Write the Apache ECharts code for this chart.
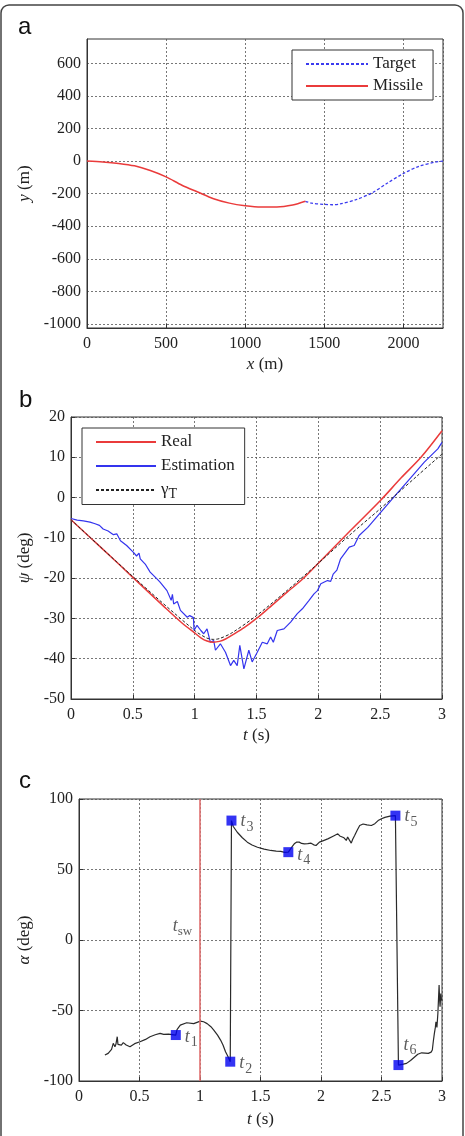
<!DOCTYPE html>
<html>
<head>
<meta charset="utf-8">
<script src="https://cdn.jsdelivr.net/npm/echarts@6/dist/echarts.min.js"></script>
<style>
html,body{margin:0;padding:0;background:#fff;}
#main{width:465px;height:1136px;}
</style>
</head>
<body>
<div id="main"></div>
<script>
// ---------- Panel a: trajectories ----------
const missileX = [0, 100, 200, 300, 400, 500, 600, 700, 800, 900, 1000, 1100, 1200, 1300, 1380];
const missileY = [0, -5, -14, -29, -58, -97, -148, -190, -231, -258, -274, -282, -282, -270, -247];
const targetX = [1380, 1420, 1500, 1550, 1600, 1700, 1800, 1900, 2000, 2100, 2200, 2250];
const targetY = [-247, -258, -266, -268, -263, -237, -196, -134, -76, -31, -6, 0];

// ---------- Panel b: heading angles ----------
const realT = [0, 0.25, 0.5, 0.75, 0.9, 1.0, 1.05, 1.1, 1.15, 1.2, 1.25, 1.3, 1.4, 1.5, 1.6, 1.75, 1.86, 2.0, 2.25, 2.5, 2.67, 2.83, 3.0];
const realV = [-5.5, -12.6, -19.8, -27.0, -31.2, -33.6, -34.8, -35.6, -35.9, -35.7, -35.1, -34.2, -32.3, -30.0, -27.4, -23.4, -20.6, -16.3, -8.5, -0.8, 4.9, 10.0, 16.6];
const gammaT = [0, 0.5, 1.0, 1.1, 1.15, 1.2, 1.3, 1.5, 1.75, 2.0, 2.25, 2.5, 2.61, 2.8, 3.0];
const gammaV = [-5.5, -19.6, -33.0, -34.9, -35.2, -35.0, -33.6, -29.3, -23.0, -16.3, -9.4, -2.8, 0.2, 5.4, 10.8];
const estT = [0, 0.05, 0.1, 0.154, 0.195, 0.23, 0.26, 0.3, 0.343, 0.37, 0.40, 0.45, 0.505, 0.53, 0.55, 0.56, 0.6, 0.64, 0.695, 0.72, 0.776, 0.81, 0.82, 0.83, 0.86, 0.885, 0.94, 0.96, 0.99, 0.995, 1.019, 1.05, 1.073, 1.10, 1.127, 1.154, 1.168, 1.208, 1.249, 1.29, 1.316, 1.344, 1.365, 1.398, 1.438, 1.465, 1.506, 1.547, 1.587, 1.614, 1.636, 1.668, 1.722, 1.776, 1.83, 1.871, 1.925, 1.965, 1.993, 2.02, 2.074, 2.1, 2.12, 2.15, 2.18, 2.25, 2.29, 2.33, 2.40, 2.506, 2.614, 2.75, 2.857, 2.966, 3.0];
const estV = [-5.2, -5.6, -5.8, -6.1, -6.5, -6.9, -7.8, -8.3, -9.2, -9.0, -10.7, -11.9, -13.6, -14.5, -13.8, -15.2, -16.5, -18.5, -20.2, -21.0, -23.1, -25.5, -24.0, -26.4, -25.8, -28.0, -29.7, -29.3, -29.8, -33.0, -31.7, -33.0, -33.8, -32.6, -35.9, -35.5, -37.9, -36.3, -38.4, -41.7, -40.4, -41.7, -36.7, -42.5, -37.9, -40.8, -38.4, -35.9, -36.3, -34.6, -35.9, -33.0, -32.6, -30.9, -28.8, -27.6, -25.5, -23.9, -23.1, -21.4, -20.6, -20.8, -19.0, -18.0, -15.2, -12.3, -11.9, -9.4, -7.4, -3.6, 0.25, 5.0, 8.8, 12.1, 13.7];

// ---------- Panel c: alpha ----------
const alphaT = [0.214, 0.225, 0.241, 0.255, 0.269, 0.283, 0.297, 0.305, 0.316, 0.322, 0.332, 0.35, 0.366, 0.39, 0.421, 0.46, 0.504, 0.55, 0.587, 0.63, 0.67, 0.7, 0.74, 0.80, 0.81, 0.837, 0.89, 0.948, 1.003, 1.03, 1.059, 1.09, 1.114, 1.145, 1.17, 1.19, 1.211, 1.23, 1.25, 1.26, 1.275, 1.308, 1.35, 1.391, 1.43, 1.475, 1.53, 1.585, 1.63, 1.668, 1.7, 1.73, 1.76, 1.779, 1.8, 1.82, 1.84, 1.862, 1.89, 1.918, 1.94, 1.959, 1.987, 2.02, 2.056, 2.1, 2.139, 2.155, 2.167, 2.19, 2.209, 2.22, 2.235, 2.25, 2.262, 2.278, 2.3, 2.32, 2.348, 2.38, 2.416, 2.445, 2.472, 2.5, 2.528, 2.57, 2.615, 2.64, 2.68, 2.707, 2.74, 2.776, 2.8, 2.832, 2.86, 2.887, 2.91, 2.92, 2.928, 2.937, 2.945, 2.95, 2.958, 2.966, 2.972, 2.976, 2.98, 2.984, 2.99, 2.996];
const alphaV = [-81.6, -82.5, -80.4, -79, -77.6, -73.3, -75.7, -74, -68.6, -74, -73.3, -74.5, -72.8, -74.5, -75.7, -73.5, -72.2, -70.5, -68.6, -67.2, -66.2, -66.9, -66.7, -67.4, -63.5, -60.4, -58.7, -59.3, -57.5, -58, -59.3, -61.5, -63.9, -67.5, -71, -74.5, -79.3, -82.5, -86.3, 84.7, 80.5, 76.4, 72.5, 69.4, 67.4, 65.8, 64.5, 63.5, 63, 62.8, 62.2, 62.3, 66, 68.2, 69.5, 69.4, 68.5, 68.2, 68.4, 68.7, 67.5, 67.0, 69.4, 70.5, 71.7, 73.6, 75.3, 73.8, 74.1, 72.5, 70.6, 73, 70.8, 68.7, 71.5, 74.1, 78, 81.2, 82.3, 81.6, 81.2, 82.5, 84.7, 86, 87.0, 87.8, 88.2, -88.7, -88, -87.5, -85.5, -82.8, -81, -80, -80.2, -80.4, -79.5, -78, -72, -66.2, -62, -58, -62, -52, -40, -32, -42, -47.4, -38, -43];
const markerNames = ['1', '2', '3', '4', '5', '6'];
const markerT = [0.80, 1.25, 1.26, 1.73, 2.615, 2.64];
const markerV = [-67.4, -86.3, 84.7, 62.3, 88.2, -88.7];
const switchTime = 1;
const switchLabelPos = [0.855, 10];

const zip = (a, b) => a.map((v, i) => [v, b[i]]);

const SERIF = 'Liberation Serif';
const TXT = '#222';
const gridLine = { show: true, lineStyle: { color: '#555', type: [2, 2], width: 0.8 } };
const numFmt = v => String(Math.round(v * 1000) / 1000);

function xAxisCfg(gi, min, max, interval, name, gap) {
  return {
    type: 'value', gridIndex: gi, min, max, interval,
    name, nameLocation: 'middle', nameGap: gap,
    nameTextStyle: { fontFamily: SERIF, fontSize: 17, color: TXT, rich: { i: { fontFamily: SERIF, fontSize: 17, fontStyle: 'italic', color: TXT } } },
    axisLine: { show: true, onZero: false, lineStyle: { color: '#333', width: 1 } },
    axisTick: { show: true, inside: true, length: 4, lineStyle: { color: '#333' } },
    axisLabel: { fontFamily: SERIF, fontSize: 16, color: TXT, margin: 8, formatter: numFmt, showMaxLabel: max % interval === 0 },
    splitLine: gridLine
  };
}
function yAxisCfg(gi, min, max, interval, name, gap) {
  return {
    type: 'value', gridIndex: gi, min, max, interval,
    name, nameLocation: 'middle', nameGap: gap,
    nameTextStyle: { fontFamily: SERIF, fontSize: 17, color: TXT, rich: { i: { fontFamily: SERIF, fontSize: 17, fontStyle: 'italic', color: TXT } } },
    axisLine: { show: true, onZero: false, lineStyle: { color: '#333', width: 1 } },
    axisTick: { show: true, inside: true, length: 4, lineStyle: { color: '#333' } },
    axisLabel: { fontFamily: SERIF, fontSize: 16, color: TXT, margin: 6, formatter: numFmt },
    splitLine: gridLine
  };
}

// Panel a y axis: fine step so the frame can extend beyond -1000..600; only every 8th line shown
const yA = yAxisCfg(0, -1025, 750, 25, '{i|y} (m)', 52);
yA.axisLabel.formatter = v => (Math.round(v) % 200 === 0 ? String(Math.round(v)) : '');
yA.axisTick = { show: false };
const clear = 'rgba(0,0,0,0)';
yA.splitLine = { show: true, lineStyle: { color: [clear, '#555', clear, clear, clear, clear, clear, clear], type: [2, 2], width: 0.8 } };

const markerLabelOffsets = [[0, 2], [0, 2], [0, 1], [0, 3], [0, 1], [-4, -20]];

const legendBase = {
  orient: 'vertical', backgroundColor: '#fff', borderColor: '#333', borderWidth: 1, borderRadius: 0,
  itemStyle: { opacity: 0 }
};

const option = {
  animation: false,
  backgroundColor: '#fff',
  grid: [
    { left: 87, top: 39, width: 356, height: 289, show: true, borderColor: '#333', borderWidth: 1, backgroundColor: '#fff' },
    { left: 71, top: 417, width: 371, height: 282, show: true, borderColor: '#333', borderWidth: 1, backgroundColor: '#fff' },
    { left: 79, top: 799, width: 363, height: 282, show: true, borderColor: '#333', borderWidth: 1, backgroundColor: '#fff' }
  ],
  xAxis: [
    xAxisCfg(0, 0, 2250, 500, '{i|x} (m)', 28),
    xAxisCfg(1, 0, 3, 0.5, '{i|t} (s)', 28),
    xAxisCfg(2, 0, 3, 0.5, '{i|t} (s)', 30)
  ],
  yAxis: [
    yA,
    yAxisCfg(1, -50, 20, 10, '{i|ψ} (deg)', 37),
    yAxisCfg(2, -100, 100, 50, '{i|α} (deg)', 45)
  ],
  legend: [
    Object.assign({}, legendBase, {
      data: ['Target', 'Missile'], left: 292, top: 50,
      padding: [5, 10, 5, 13], itemGap: 4, itemWidth: 62, itemHeight: 10,
      textStyle: { fontFamily: SERIF, fontSize: 17, color: TXT, lineHeight: 18 }
    }),
    Object.assign({}, legendBase, {
      data: ['Real', 'Estimation', 'gammaT'], left: 82, top: 428,
      padding: [5, 10, 3, 13], itemGap: 6, itemWidth: 60, itemHeight: 10,
      formatter: n => (n === 'gammaT' ? '{g|γ}{s|T}' : n),
      textStyle: {
        fontFamily: SERIF, fontSize: 17, color: TXT, lineHeight: 18,
        rich: { g: { fontFamily: SERIF, fontSize: 17, color: TXT }, s: { fontFamily: SERIF, fontSize: 14, color: TXT, padding: [9, 0, 0, 0] } }
      }
    })
  ],
  graphic: [
    { type: 'rect', shape: { x: 1, y: 5, width: 462, height: 1145, r: 8 }, style: { fill: 'none', stroke: '#444', lineWidth: 1.5 }, silent: true, z: 100 },
    { type: 'text', left: 18, top: 15, style: { text: 'a', font: '24px "Liberation Sans"', fill: '#111' } },
    { type: 'text', left: 19, top: 388, style: { text: 'b', font: '24px "Liberation Sans"', fill: '#111' } },
    { type: 'text', left: 19, top: 769, style: { text: 'c', font: '24px "Liberation Sans"', fill: '#111' } }
  ],
  series: [
    { name: 'Target', type: 'line', xAxisIndex: 0, yAxisIndex: 0, data: zip(targetX, targetY), symbol: 'none', smooth: 0.3,
      lineStyle: { color: '#3b3bef', width: 1.3, type: [3, 2] }, itemStyle: { color: '#3b3bef' } },
    { name: 'Missile', type: 'line', xAxisIndex: 0, yAxisIndex: 0, data: zip(missileX, missileY), symbol: 'none', smooth: 0.3,
      lineStyle: { color: '#ea3b3b', width: 1.5 }, itemStyle: { color: '#ea3b3b' } },
    { name: 'Real', type: 'line', xAxisIndex: 1, yAxisIndex: 1, data: zip(realT, realV), symbol: 'none', smooth: 0.3, z: 3,
      lineStyle: { color: '#ea3b3b', width: 1.5 }, itemStyle: { color: '#ea3b3b' } },
    { name: 'Estimation', type: 'line', xAxisIndex: 1, yAxisIndex: 1, data: zip(estT, estV), symbol: 'none', z: 2,
      lineStyle: { color: '#3434ee', width: 1.2 }, itemStyle: { color: '#3434ee' } },
    { name: 'gammaT', type: 'line', xAxisIndex: 1, yAxisIndex: 1, data: zip(gammaT, gammaV), symbol: 'none', smooth: 0.3, z: 4,
      lineStyle: { color: '#222', width: 1, type: [3, 2] }, itemStyle: { color: '#222' } },
    { name: 'alpha', type: 'line', xAxisIndex: 2, yAxisIndex: 2, data: zip(alphaT, alphaV), symbol: 'none', z: 3,
      lineStyle: { color: '#2a2a2a', width: 1.2 },
      markLine: { silent: true, symbol: 'none', label: { show: false }, lineStyle: { color: '#e07070', width: 1.6, type: 'solid' }, data: [{ xAxis: switchTime }] } },
    { name: 'markers', type: 'scatter', xAxisIndex: 2, yAxisIndex: 2, z: 5, symbol: 'rect', symbolSize: 10,
      itemStyle: { color: '#0000f0' },
      data: markerT.map((t, i) => ({
        value: [t, markerV[i]],
        label: { show: true, position: 'right', distance: 4, offset: markerLabelOffsets[i], formatter: '{t|t}{s|' + markerNames[i] + '}' }
      })),
      label: { rich: { t: { fontFamily: SERIF, fontStyle: 'italic', fontSize: 18, color: '#333' }, s: { fontFamily: SERIF, fontSize: 14, color: '#333', padding: [11, 0, 0, 1] } } } },
    { name: 'tsw', type: 'scatter', xAxisIndex: 2, yAxisIndex: 2, z: 5, symbolSize: 0, data: [switchLabelPos],
      label: { show: true, position: 'inside', formatter: '{t|t}{s|sw}',
        rich: { t: { fontFamily: SERIF, fontStyle: 'italic', fontSize: 18, color: '#333' }, s: { fontFamily: SERIF, fontSize: 13, color: '#333', padding: [11, 0, 0, 0] } } } }
  ]
};

const chart = echarts.init(document.getElementById('main'), null, { renderer: 'canvas' });
chart.setOption(option);
</script>
</body>
</html>
